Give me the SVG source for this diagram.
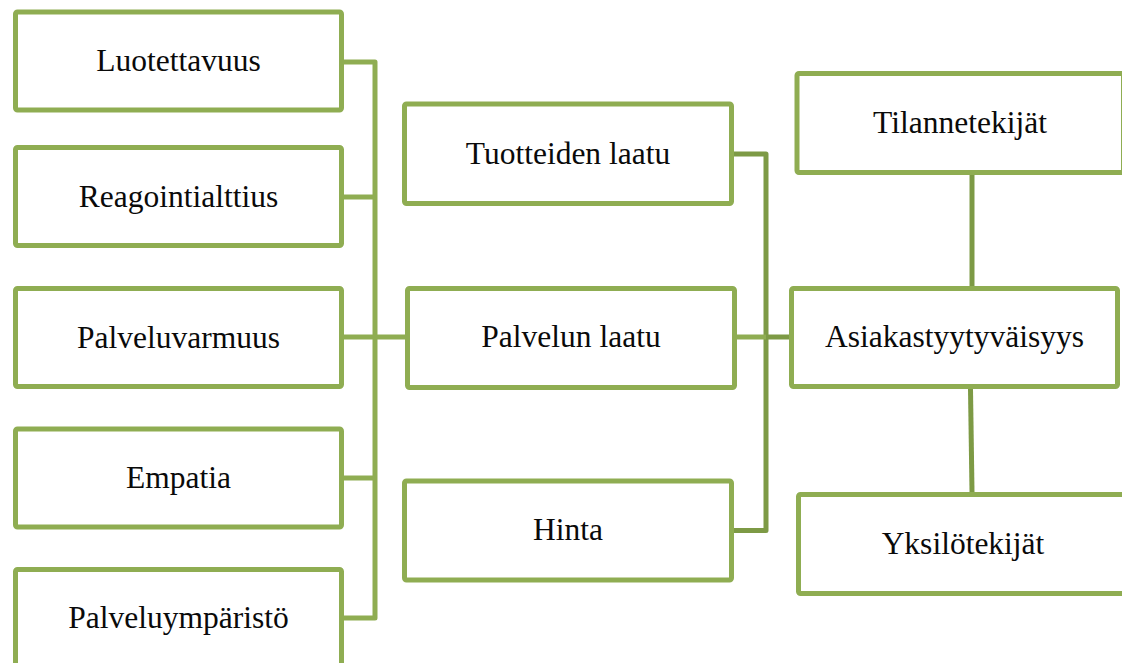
<svg xmlns="http://www.w3.org/2000/svg" width="1122" height="663" viewBox="0 0 1122 663">
  <style>
    .box { fill: #ffffff; stroke: #8fad52; stroke-width: 5; }
    .label { font-size: 31.5px; fill: #0a0a0a; text-anchor: middle; }
    .link { fill: none; stroke-width: 5; stroke-linejoin: round; }
    .light { stroke: #8fad52; }
    .dark { stroke: #7d9a45; }
  </style>
  <rect width="1122" height="663" fill="#ffffff"/>

  <!-- connectors -->
  <g id="connectors">
    <!-- service-quality factors bracket -->
    <path class="link light" d="M344 62 H375 V618 H344"/>
    <path class="link light" d="M344 197 H375"/>
    <path class="link light" d="M344 337 H405"/>
    <path class="link light" d="M344 478 H375"/>
    <!-- product quality / price bracket -->
    <path class="link dark" d="M734 154 H766 V530.5 H734"/>
    <path class="link light" d="M737 337 H766"/>
    <path class="link dark" d="M766 337 H790"/>
    <!-- situational and personal factors -->
    <path class="link dark" d="M972 175 V286"/>
    <path class="link dark" d="M970.5 389 L972 492"/>
  </g>

  <g font-family="'Liberation Serif', serif">
    <!-- left column -->
    <g id="luotettavuus">
      <rect class="box" x="15.5" y="12" width="326" height="98" rx="2"/>
      <text class="label" x="178.5" y="71">Luotettavuus</text>
    </g>
    <g id="reagointialttius">
      <rect class="box" x="15.5" y="147.5" width="326" height="98" rx="2"/>
      <text class="label" x="178.5" y="206.5">Reagointialttius</text>
    </g>
    <g id="palveluvarmuus">
      <rect class="box" x="15.5" y="288.5" width="326" height="98" rx="2"/>
      <text class="label" x="178.5" y="347.5">Palveluvarmuus</text>
    </g>
    <g id="empatia">
      <rect class="box" x="15.5" y="429" width="326" height="98" rx="2"/>
      <text class="label" x="178.5" y="488">Empatia</text>
    </g>
    <g id="palveluymparisto">
      <rect class="box" x="15.5" y="569.5" width="326" height="98" rx="2"/>
      <text class="label" x="178.5" y="628">Palveluympäristö</text>
    </g>

    <!-- middle column -->
    <g id="tuotteiden-laatu">
      <rect class="box" x="404.5" y="104" width="327" height="99.5" rx="2"/>
      <text class="label" x="568" y="163.5">Tuotteiden laatu</text>
    </g>
    <g id="palvelun-laatu">
      <rect class="box" x="407.5" y="288.5" width="327" height="99" rx="2"/>
      <text class="label" x="571" y="347">Palvelun laatu</text>
    </g>
    <g id="hinta">
      <rect class="box" x="404.5" y="481" width="327" height="99" rx="2"/>
      <text class="label" x="568" y="540">Hinta</text>
    </g>

    <!-- right column -->
    <g id="tilannetekijat">
      <rect class="box" x="797" y="73.5" width="326.5" height="99" rx="2"/>
      <text class="label" x="960" y="132.5">Tilannetekijät</text>
    </g>
    <g id="asiakastyytyvaisyys">
      <rect class="box" x="791.5" y="288.5" width="326" height="98" rx="2"/>
      <text class="label" x="954.5" y="347">Asiakastyytyväisyys</text>
    </g>
    <g id="yksilotekijat">
      <rect class="box" x="798.5" y="494.5" width="330" height="99" rx="2"/>
      <text class="label" x="963" y="553.5">Yksilötekijät</text>
    </g>
  </g>
</svg>
